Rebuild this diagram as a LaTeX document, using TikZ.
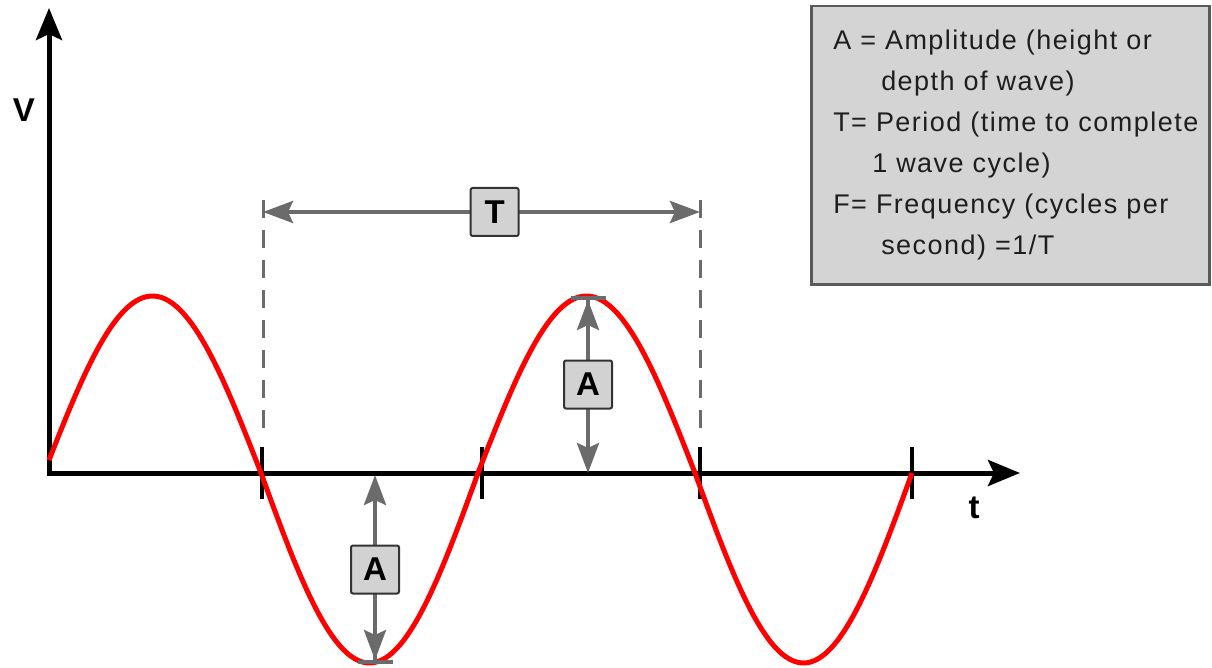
\documentclass[tikz,border=0pt]{standalone}
\usepackage{fontspec}
\setmainfont{Liberation Sans}
\usetikzlibrary{arrows.meta}

\definecolor{wavered}{HTML}{FF0000}
\definecolor{arrowgray}{HTML}{6B6B6B}
\definecolor{tagfill}{HTML}{D2D2D2}
\definecolor{tagedge}{HTML}{333333}
\definecolor{keyfill}{HTML}{D4D4D4}
\definecolor{keyedge}{HTML}{5A5A5A}
\definecolor{keytext}{HTML}{1E1E1E}

\begin{document}
\begin{tikzpicture}[
    x=1pt, y=-1pt,
    axis/.style    = {line width=5pt, black, line join=miter,
                      {Stealth[length=32pt, width=26pt, inset=6pt]}-{Stealth[length=32pt, width=26pt, inset=6pt]}},
    tickmark/.style= {line width=4.5pt, black},
    wave/.style    = {line width=5pt, wavered},
    dim/.style     = {line width=4pt, arrowgray,
                      {Stealth[length=30pt, width=22pt, inset=5pt]}-{Stealth[length=30pt, width=22pt, inset=5pt]}},
    guide/.style   = {line width=3pt, arrowgray, dash pattern=on 18pt off 12pt},
    tag/.style     = {draw=tagedge, line width=2pt, fill=tagfill, rounded corners=2pt,
                      minimum size=48pt, inner sep=0pt, text=black,
                      font=\fontsize{33}{33}\selectfont\bfseries},
    axlabel/.style = {font=\fontsize{33}{33}\selectfont\bfseries},
    legend/.style  = {draw=keyedge, line width=2.5pt, fill=keyfill, anchor=north west,
                      minimum width=398pt, minimum height=278pt,
                      text width=354pt, inner xsep=22pt, align=left, text=keytext,
                      font=\fontsize{27}{41}\selectfont\addfontfeature{LetterSpace=5.5}}
]
\useasboundingbox (0,0) rectangle (1212,668);

% ========= axes =========
\coordinate (origin) at (49,473);
\coordinate (ytop)   at (49,8);
\coordinate (xend)   at (1020,473);
\draw[axis] (ytop) -- (origin) -- (xend);
\node[axlabel] (vlabel) at (24,110) {V};
\node[axlabel] (tlabel) at (974,508) {t};

% ========= zero crossings =========
\foreach \x in {262,482,700,912}
  \draw[tickmark] (\x,447) -- (\x,499);

% ========= sine wave =========
\draw[wave] plot[domain=49:912, samples=240, smooth]
  (\x, {473 - 183.5*sin((\x-44)/217*180) + 6.5*abs(sin((\x-44)/217*180))});

% ========= period =========
\coordinate (Tl) at (263,212);
\coordinate (Tr) at (700,212);
\draw[guide] ([yshift=12pt]Tl) -- ++(0,235);
\draw[guide] ([yshift=12pt]Tr) -- ++(0,235);
\draw[dim] (Tl) -- (Tr) node[tag, pos=0.53] (Tbox) {T};

% ========= amplitude =========
\coordinate (peakA)   at (588,296);
\coordinate (baseA)   at (588,473);
\coordinate (baseB)   at (375,475);
\coordinate (troughB) at (375,664);
\draw[dim, {Bar[width=35pt]Stealth[length=30pt, width=22pt, inset=5pt]}-{Stealth[length=30pt, width=22pt, inset=5pt]}]
  (peakA) -- (baseA) node[tag, midway] (Aup) {A};
\draw[dim, {Stealth[length=30pt, width=22pt, inset=5pt]}-{Stealth[length=30pt, width=22pt, inset=5pt]Bar[width=35pt]}]
  (baseB) -- (troughB) node[tag, midway] (Adown) {A};

% ========= key =========
\node[legend] (key) at (810,5)
  {\mbox{A = Amplitude (height or}\\
   \hspace*{48pt}\mbox{depth of wave)}\\
   \mbox{T= Period (time to complete}\\
   \hspace*{39pt}\mbox{1 wave cycle)}\\
   \mbox{F= Frequency (cycles per}\\
   \hspace*{48pt}\mbox{second) =1/T}};

\end{tikzpicture}
\end{document}
